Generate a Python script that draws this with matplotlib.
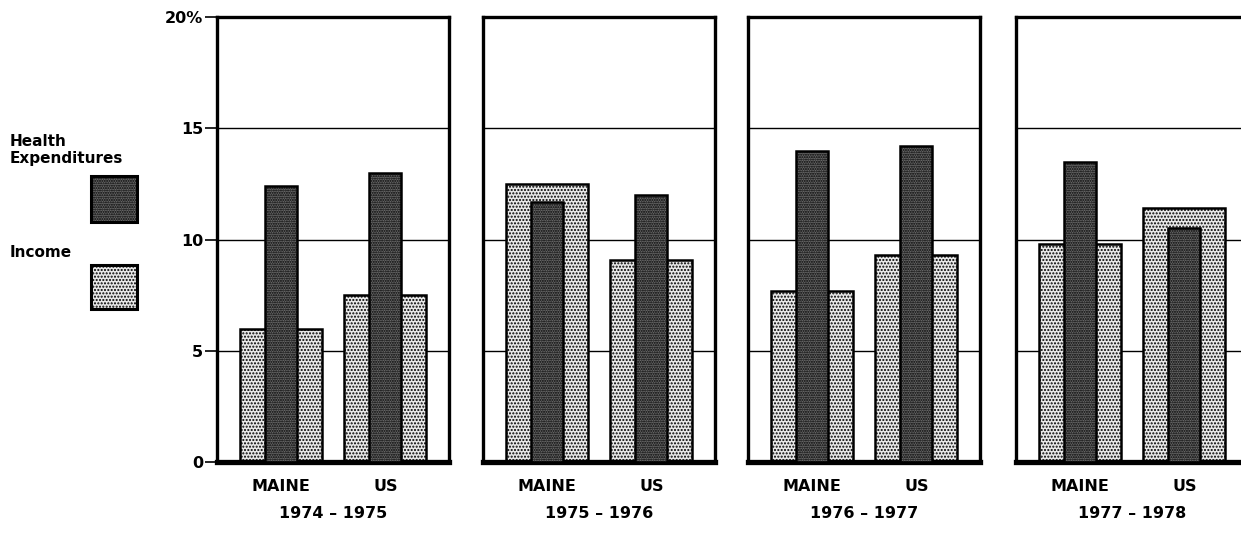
import matplotlib
matplotlib.use("Agg")
import matplotlib.pyplot as plt
from matplotlib.patches import Rectangle

years = ["1974 – 1975", "1975 – 1976", "1976 – 1977", "1977 – 1978"]
regions = ["MAINE", "US"]
income_maine = [6.0, 12.5, 7.7, 9.8]
income_us = [7.5, 9.1, 9.3, 11.4]
health_maine = [12.4, 11.7, 14.0, 13.5]
health_us = [13.0, 12.0, 14.2, 10.5]
yticks = [0, 5, 10, 15, 20]
ytick_labels = ["0", "5", "10", "15", "20%"]

plt.rcParams["font.family"] = ["DejaVu Sans"]
plt.rcParams["font.weight"] = "bold"
plt.rcParams["hatch.linewidth"] = 1.0

W, H = 1241, 543
fig = plt.figure(figsize=(W / 100, H / 100), dpi=100)

INC_FACE = "#e8e8e8"
HLT_FACE = "#6a6a6a"
INC_HATCH = "....."
HLT_HATCH = "......."

lefts = [217, 483, 748, 1016]
pw = 232
top, bottom = 17, 462

for i, left in enumerate(lefts):
    ax = fig.add_axes([left / W, 1 - bottom / H, pw / W, (bottom - top) / H])
    inc = [income_maine[i], income_us[i]]
    hlt = [health_maine[i], health_us[i]]
    x = [0, 1]
    ax.bar(x, inc, width=0.78, facecolor=INC_FACE, edgecolor="black",
           linewidth=1.8, hatch=INC_HATCH, zorder=2)
    ax.bar(x, hlt, width=0.31, facecolor=HLT_FACE, edgecolor="black",
           linewidth=1.8, hatch=HLT_HATCH, zorder=3)
    for yv in [5, 10, 15]:
        ax.axhline(yv, color="black", linewidth=1.0, zorder=1)
    ax.set_xlim(-0.61, 1.61)
    ax.set_ylim(0, 20)
    for side in ["left", "right", "top"]:
        ax.spines[side].set_linewidth(2.4)
    ax.spines["bottom"].set_linewidth(3.8)
    ax.set_xticks(x, regions, fontsize=11.5, fontweight="bold")
    ax.tick_params(axis="x", length=0, pad=12)
    ax.set_xlabel(years[i], fontsize=11.5, fontweight="bold", labelpad=9)
    if i == 0:
        ax.set_yticks(yticks, ytick_labels, fontsize=11.5, fontweight="bold")
        ax.tick_params(axis="y", length=9, width=1.2, pad=1)
    else:
        ax.set_yticks([])

# legend
fig.text(10 / W, 1 - 146 / H, "Health", fontsize=11, fontweight="bold",
         ha="left", va="baseline")
fig.text(10 / W, 1 - 163 / H, "Expenditures", fontsize=11, fontweight="bold",
         ha="left", va="baseline")
fig.text(10 / W, 1 - 257 / H, "Income", fontsize=11, fontweight="bold",
         ha="left", va="baseline")
fig.add_artist(Rectangle((91 / W, 1 - 222 / H), 46 / W, 46 / H,
                         transform=fig.transFigure, facecolor=HLT_FACE,
                         edgecolor="black", linewidth=2.2, hatch=HLT_HATCH))
fig.add_artist(Rectangle((91 / W, 1 - 309 / H), 46 / W, 44 / H,
                         transform=fig.transFigure, facecolor=INC_FACE,
                         edgecolor="black", linewidth=2.2, hatch=INC_HATCH))

fig.savefig("out.png", dpi=100)
